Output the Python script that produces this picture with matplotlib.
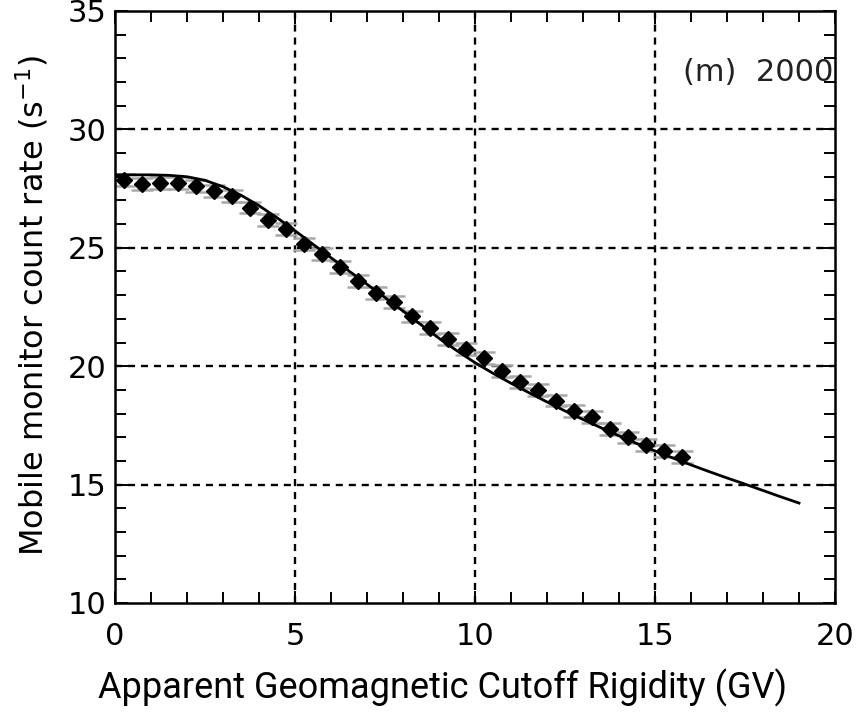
import matplotlib
matplotlib.use("Agg")
import matplotlib.pyplot as plt
from matplotlib.ticker import MultipleLocator

rigidity = [0.25, 0.75, 1.25, 1.75, 2.25, 2.75, 3.25, 3.75, 4.25, 4.75,
            5.25, 5.75, 6.25, 6.75, 7.25, 7.75, 8.25, 8.75, 9.25, 9.75,
            10.25, 10.75, 11.25, 11.75, 12.25, 12.75, 13.25, 13.75, 14.25,
            14.75, 15.25, 15.75]
count_rate = [27.88, 27.68, 27.75, 27.74, 27.60, 27.40, 27.17, 26.70, 26.16,
              25.78, 25.17, 24.75, 24.18, 23.58, 23.08, 22.70, 22.10, 21.62,
              21.16, 20.73, 20.36, 19.80, 19.32, 18.98, 18.55, 18.12, 17.84,
              17.35, 16.99, 16.68, 16.43, 16.15]
count_err = [0.25] * len(rigidity)

# fitted curve
fit_x = [0, 1, 1.5, 2, 2.5, 3, 3.5, 4, 4.5, 5, 5.5, 6, 6.5, 7, 7.5, 8, 8.5,
         9, 9.5, 10, 10.5, 11, 11.5, 12, 12.5, 13, 13.5, 14, 14.5, 15, 15.5,
         16, 16.5, 17, 17.5, 18, 18.5, 19]
fit_y = [28.08, 28.08, 28.06, 28.00, 27.85, 27.58, 27.22, 26.78, 26.27, 25.72,
         25.15, 24.58, 24.02, 23.46, 22.90, 22.33, 21.75, 21.18, 20.65, 20.15,
         19.70, 19.28, 18.88, 18.49, 18.11, 17.75, 17.40, 17.06, 16.73, 16.42,
         16.12, 15.83, 15.55, 15.28, 15.02, 14.75, 14.48, 14.22]

fig = plt.figure(figsize=(8.58, 7.14), dpi=100)
ax = fig.add_axes([0.134, 0.1555, 0.8392, 0.8291])

ax.errorbar(rigidity, count_rate, yerr=count_err, fmt='none', ecolor='#a8a8a8',
            elinewidth=1.5, capsize=8, capthick=1.8, zorder=2)
ax.plot(fit_x, fit_y, color='black', lw=2, zorder=3)
ax.plot(rigidity, count_rate, 'D', color='black', ms=8, zorder=4)

ax.set_xlim(0, 20)
ax.set_ylim(10, 35)
ax.xaxis.set_major_locator(MultipleLocator(5))
ax.xaxis.set_minor_locator(MultipleLocator(1))
ax.yaxis.set_major_locator(MultipleLocator(5))
ax.yaxis.set_minor_locator(MultipleLocator(1))
ax.tick_params(which='both', direction='in', top=True, right=True, width=1.4,
               labelsize=22, colors='black')
ax.tick_params(which='major', length=9)
ax.tick_params(which='minor', length=8)
ax.tick_params(axis='x', which='major', pad=14)
ax.tick_params(axis='y', which='major', pad=6)
for s in ax.spines.values():
    s.set_linewidth(1.8)

for v in [5, 10, 15]:
    ax.axvline(v, color='black', lw=1.7, ls=(0, (3, 2.5)), zorder=1)
for v in [15, 20, 25, 30]:
    ax.axhline(v, color='black', lw=1.7, ls=(0, (3, 2.5)), zorder=1)

ax.text(19.95, 32.4, '(m)  2000', ha='right', va='center', fontsize=22,
        color='#222222')

fig.text(32 / 858, 1 - 305 / 714, 'Mobile monitor count rate (s$^{-1}$)',
         rotation=90, ha='center', va='center', fontsize=23)
fig.text(443 / 858, 1 - 688 / 714, 'Apparent Geomagnetic Cutoff Rigidity (GV)',
         ha='center', va='center', fontsize=26,
         family=['Roboto', 'DejaVu Sans'])

fig.savefig('out.png', dpi=100)
